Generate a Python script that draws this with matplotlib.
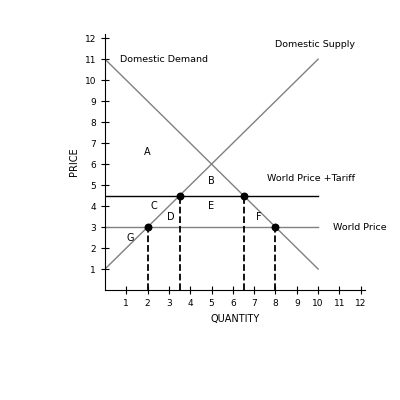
import matplotlib
matplotlib.use("Agg")
import matplotlib.pyplot as plt

demand_q = [0, 10]; demand_p = [11, 1]
supply_q = [0, 10]; supply_p = [1, 11]
world_price = 3
tariff_price = 4.5
points_q = [2, 8, 3.5, 6.5]
points_p = [3, 3, 4.5, 4.5]
area_labels = {"A": (2, 6.6), "B": (5, 5.2), "C": (2.3, 4.0), "D": (3.1, 3.5), "E": (5, 4.0), "F": (7.2, 3.5), "G": (1.2, 2.5)}

fig = plt.figure(figsize=(4, 4), dpi=100)
ax = fig.add_axes([0.2625, 0.275, 0.65, 0.64])
ax.set_xlim(0, 12.2); ax.set_ylim(0, 12.2)
c = "#808080"
ax.plot(demand_q, demand_p, color=c, lw=1)
ax.plot(supply_q, supply_p, color=c, lw=1)
ax.plot([0, 10], [tariff_price]*2, color="black", lw=1)
ax.plot([0, 10], [world_price]*2, color=c, lw=1)
for q, p in zip(points_q, points_p):
    ax.plot([q, q], [0, p], color="black", ls="--", lw=1.3)
ax.scatter(points_q, points_p, color="black", s=22, zorder=5)
for k, (x, y) in area_labels.items():
    ax.text(x, y, k, fontsize=7, ha="center", va="center")
fs = 6.8
ax.text(0.7, 11, "Domestic Demand", fontsize=fs, va="center")
ax.text(8.0, 11.7, "Domestic Supply", fontsize=fs, va="center")
ax.text(7.6, 5.3, "World Price +Tariff", fontsize=fs, va="center")
ax.text(10.7, 3.0, "World Price", fontsize=fs, va="center")
for s in ["top", "right"]:
    ax.spines[s].set_visible(False)
ax.set_xticks(range(1, 13)); ax.set_yticks(range(1, 13))
ax.tick_params(direction="inout", length=6, labelsize=6.5)
ax.set_xlabel("QUANTITY", fontsize=7)
ax.set_ylabel("PRICE", fontsize=7)
fig.savefig("out.png")
